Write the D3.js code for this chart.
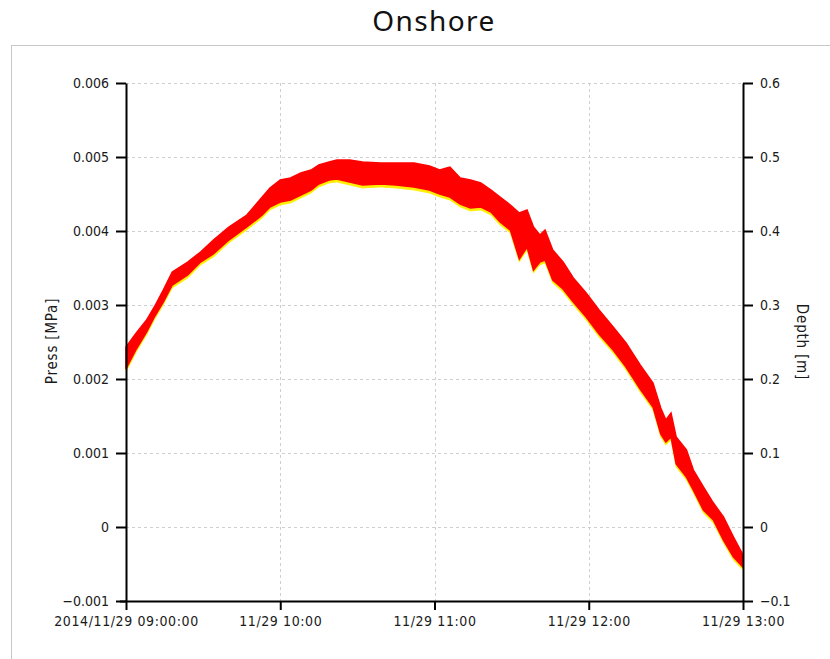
<!DOCTYPE html>
<html><head><meta charset="utf-8">
<script src="https://cdn.jsdelivr.net/npm/d3@7"></script>
<style>body{margin:0;background:#fff} svg{display:block}</style>
</head><body><svg id="c" width="830" height="659"></svg>
<script>
const chartTitle = "Onshore";
const leftTitle = "Press [MPa]";
const rightTitle = "Depth [m]";
const startTime = "2014-11-29T09:00:00";
const endTime = "2014-11-29T13:00:00";

const leftTicks = [-0.001, 0, 0.001, 0.002, 0.003, 0.004, 0.005, 0.006];
const leftTickLabels = ["\u22120.001", "0", "0.001", "0.002", "0.003", "0.004", "0.005", "0.006"];
const rightTicks = [-0.1, 0, 0.1, 0.2, 0.3, 0.4, 0.5, 0.6];
const rightTickLabels = ["\u22120.1", "0", "0.1", "0.2", "0.3", "0.4", "0.5", "0.6"];
const timeTicks = ["2014-11-29T09:00:00", "2014-11-29T10:00:00", "2014-11-29T11:00:00", "2014-11-29T12:00:00", "2014-11-29T13:00:00"];
const timeTickLabels = ["2014/11/29 09:00:00", "11/29 10:00", "11/29 11:00", "11/29 12:00", "11/29 13:00"];

// minutes after 09:00
const minutes = [0,4,8,11,14.5,18,24,29,34,40,47,53,56,60,64,68,72,75,79,82,87,92,99,105,112,118,122,126,130,134,138,142,145.5,149.5,153,156,158.5,161,163,166,170,174,179,184,189.5,194.5,200,205,208,210,212,214,218,220.7,224.6,228.5,232.4,236.3,240];

// Press (yellow) envelope, MPa
const pressUpper = [0.002392,0.002582,0.002757,0.002933,0.003163,0.003406,0.003541,0.003676,0.003838,0.004014,0.004176,0.004419,0.004541,0.004649,0.004676,0.004744,0.004784,0.004852,0.004892,0.004919,0.004919,0.004892,0.004879,0.004879,0.004879,0.004838,0.004784,0.004825,0.004676,0.004649,0.004609,0.004514,0.004419,0.004311,0.004203,0.004244,0.004014,0.003906,0.003974,0.003703,0.003541,0.003325,0.003122,0.002892,0.002663,0.002446,0.002149,0.001906,0.001568,0.001406,0.001501,0.001176,0.001001,0.000730,0.000501,0.000284,0.000095,-0.000175,-0.000418];
const pressLower = [0.002095,0.002365,0.002595,0.002797,0.003000,0.003230,0.003365,0.003541,0.003649,0.003838,0.004014,0.004176,0.004284,0.004351,0.004378,0.004446,0.004514,0.004595,0.004649,0.004662,0.004622,0.004581,0.004595,0.004581,0.004554,0.004514,0.004459,0.004419,0.004324,0.004270,0.004284,0.004216,0.004081,0.003973,0.003581,0.003743,0.003432,0.003541,0.003568,0.003297,0.003176,0.003000,0.002797,0.002568,0.002351,0.002122,0.001824,0.001581,0.001216,0.001108,0.001176,0.000811,0.000635,0.000459,0.000189,0.000054,-0.000216,-0.000446,-0.000581];

// Depth (red) envelope, m
const depthUpper = [0.2432,0.2622,0.2797,0.2973,0.3203,0.3446,0.3581,0.3716,0.3878,0.4054,0.4216,0.4459,0.4581,0.4689,0.4716,0.4784,0.4824,0.4892,0.4932,0.4959,0.4959,0.4932,0.4919,0.4919,0.4919,0.4878,0.4824,0.4865,0.4716,0.4689,0.4649,0.4554,0.4459,0.4351,0.4243,0.4284,0.4054,0.3946,0.4014,0.3743,0.3581,0.3365,0.3162,0.2932,0.2703,0.2486,0.2189,0.1946,0.1608,0.1446,0.1541,0.1216,0.1041,0.0770,0.0541,0.0324,0.0135,-0.0135,-0.0378];
const depthLower = [0.2135,0.2405,0.2635,0.2837,0.3040,0.3270,0.3405,0.3581,0.3689,0.3878,0.4054,0.4216,0.4324,0.4391,0.4418,0.4486,0.4554,0.4635,0.4689,0.4702,0.4662,0.4621,0.4635,0.4621,0.4594,0.4554,0.4499,0.4459,0.4364,0.4310,0.4324,0.4256,0.4121,0.4013,0.3621,0.3783,0.3472,0.3581,0.3608,0.3337,0.3216,0.3040,0.2837,0.2608,0.2391,0.2162,0.1864,0.1621,0.1256,0.1148,0.1216,0.0851,0.0675,0.0499,0.0229,0.0094,-0.0176,-0.0406,-0.0541];

const parse = d3.timeParse("%Y-%m-%dT%H:%M:%S");
const t0 = parse(startTime), t1 = parse(endTime);
const svg = d3.select("#c");
const M = {l:126, r:743, t:83, b:601};
const x = d3.scaleTime().domain([t0, t1]).range([M.l, M.r]);
const yL = d3.scaleLinear().domain([-0.001, 0.006]).range([M.b, M.t]);
const yR = d3.scaleLinear().domain([-0.1, 0.6]).range([M.b, M.t]);
const tickFont = "'DejaVu Sans Condensed','DejaVu Sans',sans-serif";

// frame
svg.append("rect").attr("x", 11.5).attr("y", 45.5).attr("width", 840).attr("height", 640)
  .attr("fill", "none").attr("stroke", "#c8c8c8").attr("stroke-width", 1);

// title
svg.append("text").attr("x", 434).attr("y", 31).attr("text-anchor", "middle")
  .attr("font-family", "'Noto Sans','Open Sans',sans-serif").attr("font-size", 28)
  .attr("letter-spacing", 1.4).attr("fill", "#111")
  .text(chartTitle);

// grid
const grid = svg.append("g").attr("stroke", "#cfcfcf").attr("stroke-width", 1).attr("stroke-dasharray", "3,3");
leftTicks.filter(v => v > -0.001).forEach(v => {
  grid.append("line").attr("x1", M.l).attr("x2", M.r).attr("y1", Math.round(yL(v)) + 0.5).attr("y2", Math.round(yL(v)) + 0.5);
});
timeTicks.slice(1, -1).forEach(s => {
  const xx = Math.round(x(parse(s))) + 0.5;
  grid.append("line").attr("x1", xx).attr("x2", xx).attr("y1", M.t).attr("y2", M.b);
});

// data
const rows = minutes.map((m, i) => ({
  t: new Date(t0.getTime() + m * 60000),
  pu: pressUpper[i], pl: pressLower[i], du: depthUpper[i], dl: depthLower[i]
}));
const g = svg.append("g");
g.append("path").datum(rows)
  .attr("d", d3.area().x(d => x(d.t)).y0(d => yL(d.pl)).y1(d => yL(d.pu)))
  .attr("fill", "#ffee00").attr("stroke", "#ffee00").attr("stroke-width", 0.8);
g.append("path").datum(rows)
  .attr("d", d3.area().x(d => x(d.t)).y0(d => yR(d.dl)).y1(d => yR(d.du)))
  .attr("fill", "#ff0000").attr("stroke", "#ff0000").attr("stroke-width", 1.5);

// axes
function styleAxis(sel, spacing) {
  sel.select(".domain").attr("stroke", "#000").attr("stroke-width", 2);
  sel.selectAll(".tick line").attr("stroke", "#000").attr("stroke-width", 2);
  sel.selectAll(".tick text").attr("font-family", tickFont).attr("font-size", 14).attr("fill", "#1a1a1a")
    .attr("letter-spacing", spacing);
}
const axL = svg.append("g").attr("transform", `translate(${M.l},0)`)
  .call(d3.axisLeft(yL).tickValues(leftTicks).tickSize(10).tickSizeOuter(0).tickPadding(7)
    .tickFormat((d, i) => leftTickLabels[i]));
styleAxis(axL, 0);
const axR = svg.append("g").attr("transform", `translate(${M.r},0)`)
  .call(d3.axisRight(yR).tickValues(rightTicks).tickSize(10).tickSizeOuter(0).tickPadding(7)
    .tickFormat((d, i) => rightTickLabels[i]));
styleAxis(axR, 0);
const axB = svg.append("g").attr("transform", `translate(0,${M.b})`)
  .call(d3.axisBottom(x).tickValues(timeTicks.map(parse)).tickSize(9).tickSizeOuter(0).tickPadding(6)
    .tickFormat((d, i) => timeTickLabels[i]));
styleAxis(axB, 0.6);
axB.select(".domain").attr("d", `M${M.l - 6},0.5H${M.r}`);

// axis titles
svg.append("text").attr("transform", "translate(57,341) rotate(-90)").attr("text-anchor", "middle")
  .attr("font-family", tickFont).attr("font-size", 15).attr("letter-spacing", 0.8).attr("fill", "#1a1a1a").text(leftTitle);
svg.append("text").attr("transform", "translate(797,342) rotate(90)").attr("text-anchor", "middle")
  .attr("font-family", tickFont).attr("font-size", 15).attr("letter-spacing", 0.8).attr("fill", "#1a1a1a").text(rightTitle);
</script>
</body></html>
